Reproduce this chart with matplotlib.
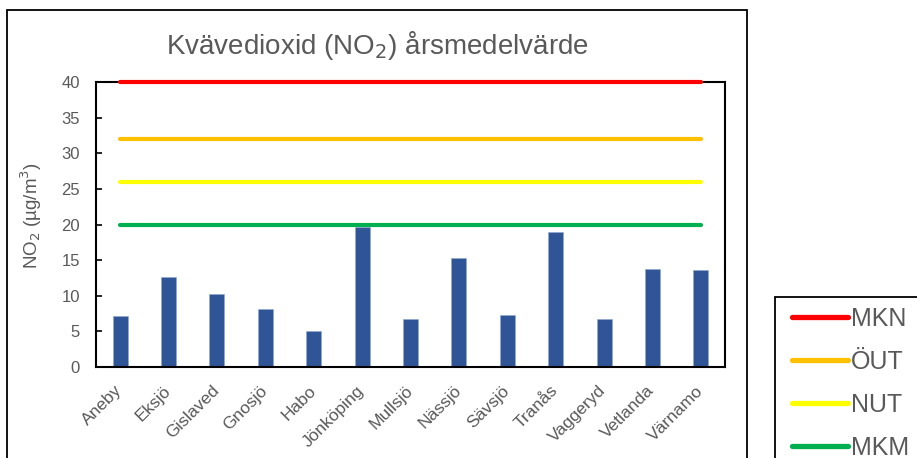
import matplotlib
matplotlib.use("Agg")
import matplotlib.pyplot as plt
import matplotlib.transforms as mtransforms
from matplotlib.lines import Line2D
from matplotlib.patches import Rectangle

plt.rcParams['font.family'] = ['Liberation Sans', 'DejaVu Sans']

categories = ["Aneby", "Eksjö", "Gislaved", "Gnosjö", "Habo", "Jönköping", "Mullsjö",
              "Nässjö", "Sävsjö", "Tranås", "Vaggeryd", "Vetlanda", "Värnamo"]
no2_values = [7.2, 12.7, 10.3, 8.1, 5.0, 19.7, 6.7, 15.3, 7.3, 18.9, 6.7, 13.7, 13.6]

limit_names = ["MKN", "ÖUT", "NUT", "MKM"]
limit_values = [40, 32, 26, 20]
limit_colors = ["#FF0000", "#FFC000", "#FFFF00", "#00B050"]

yticks = [0, 5, 10, 15, 20, 25, 30, 35, 40]

gray = "#595959"
W, H = 917, 458

fig = plt.figure(figsize=(9.17, 4.58), dpi=100)
fig.patch.set_facecolor("white")

# outer chart border
fig.patches.append(Rectangle((7/W, -0.2), (747-7)/W, 1.2 - 10/H,
                             transform=fig.transFigure, fill=False,
                             edgecolor="black", linewidth=1.3))
# legend border (separate box, cut by figure edge)
fig.patches.append(Rectangle((775/W, -0.2), 0.5, 1.2 - 297/H,
                             transform=fig.transFigure, fill=False,
                             edgecolor="black", linewidth=1.3))

ax = fig.add_axes([96/W, 1-367/H, (725-96)/W, (367-82)/H])

x = list(range(len(categories)))
ax.bar(x, no2_values, width=0.31, color="#2F5597", edgecolor="#8FA8D4", linewidth=0.4, zorder=2)

handles = []
for name, val, col in zip(limit_names, limit_values, limit_colors):
    ax.plot([x[0], x[-1]], [val, val], color=col, linewidth=3.0,
            solid_capstyle="round", clip_on=False, zorder=3)
    handles.append(Line2D([0], [0], color=col, linewidth=3.8, solid_capstyle="round", label=name))

ax.set_xlim(-0.5, len(categories) - 0.5)
ax.set_ylim(0, 40)
ax.set_yticks(yticks)
ax.set_yticklabels([str(t) for t in yticks], fontsize=12, color=gray)
ax.set_xticks(x)
ax.set_xticklabels(categories, rotation=45, ha="right", va="top",
                   fontsize=12.5, color=gray)
ax.tick_params(axis="x", length=0, pad=11.5)
ax.tick_params(axis="y", direction="in", length=4, width=1.2, color="black", pad=11.5)
offset = mtransforms.ScaledTranslation(5/100, 0, fig.dpi_scale_trans)
for lab in ax.get_xticklabels():
    lab.set_transform(lab.get_transform() + offset)
for s in ax.spines.values():
    s.set_color("black")
    s.set_linewidth(1.5)

ax.set_ylabel("NO$_2$ (µg/m$^3$)", fontsize=13.5, color=gray)
ax.yaxis.set_label_coords(-0.083, 0.533)

fig.text(377/W, 1-45/H, "Kvävedioxid (NO$_2$) årsmedelvärde", ha="center", va="center",
         fontsize=20, color=gray)

fs = 18
pad_px = 0.35 * fs * 100 / 72
leg = fig.legend(handles=handles, loc="upper left",
                 bbox_to_anchor=((792 - pad_px)/W, 1-298/H),
                 fontsize=fs, frameon=False, handlelength=2.25, handletextpad=0.12,
                 labelspacing=0.76, borderpad=0.35, borderaxespad=0)
for t in leg.get_texts():
    t.set_color(gray)

fig.savefig("out.png", dpi=100)
